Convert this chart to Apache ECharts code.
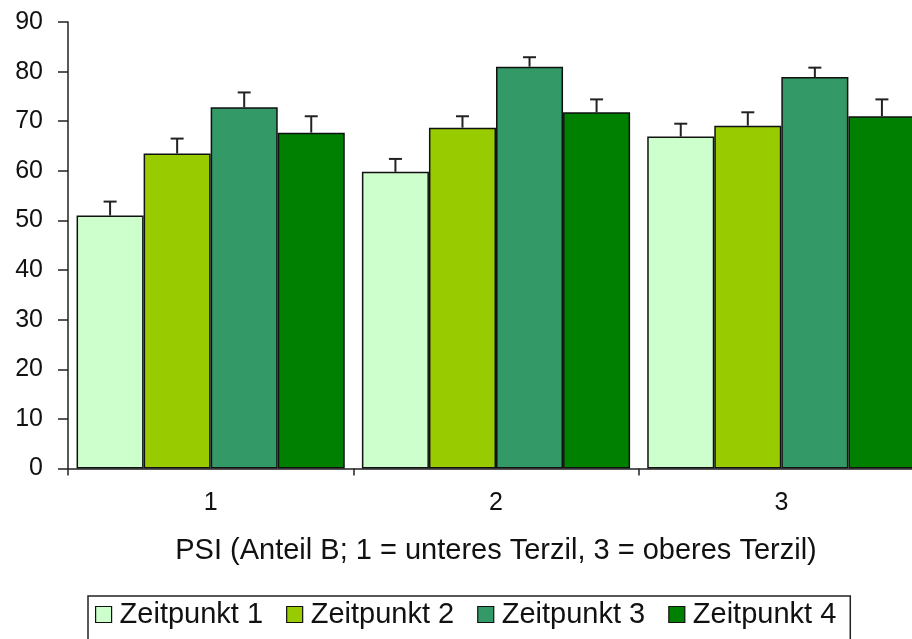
<!DOCTYPE html>
<html>
<head>
<meta charset="utf-8">
<script src="https://cdn.jsdelivr.net/npm/echarts@6/dist/echarts.min.js"></script>
<style>html,body{margin:0;padding:0;background:#fff;}#c{width:912px;height:639px;}</style>
</head>
<body>
<div id="c"></div>
<script>
const categories = ['1', '2', '3'];
const seriesNames = ['Zeitpunkt 1', 'Zeitpunkt 2', 'Zeitpunkt 3', 'Zeitpunkt 4'];
const zeitpunkt1 = [51.0, 59.8, 66.9];
const zeitpunkt2 = [63.5, 68.7, 69.1];
const zeitpunkt3 = [72.8, 81.0, 78.9];
const zeitpunkt4 = [67.7, 71.8, 71.0];
const err1 = [2.8, 2.6, 2.6];
const err2 = [3.0, 2.3, 2.7];
const err3 = [3.0, 1.9, 1.9];
const err4 = [3.3, 2.6, 3.4];
const yTicks = [0, 10, 20, 30, 40, 50, 60, 70, 80, 90];

const values = [zeitpunkt1, zeitpunkt2, zeitpunkt3, zeitpunkt4];
const errs = [err1, err2, err3, err4];
const colors = ['#CCFFCC', '#99CC00', '#339966', '#008000'];
const catGap = 0.06;
const font = 'Liberation Sans, Arial, sans-serif';

const series = [];
values.forEach((vals, i) => {
  series.push({
    name: seriesNames[i],
    type: 'bar',
    data: vals,
    barGap: '0%',
    barCategoryGap: (catGap * 100) + '%',
    itemStyle: { color: colors[i], borderColor: '#111', borderWidth: 1.5 },
    emphasis: { disabled: true },
    z: 2
  });
});
values.forEach((vals, i) => {
  series.push({
    type: 'custom',
    name: 'err' + i,
    data: vals.map((v, k) => [k, v, v + errs[i][k]]),
    z: 5,
    silent: true,
    renderItem: function (params, api) {
      const k = api.value(0);
      const c0 = api.coord([k, api.value(1)]);
      const c1 = api.coord([k, api.value(2)]);
      const cw = api.size([1, 0])[0];
      const bw = cw * (1 - catGap) / 4;
      const x = c0[0] - 2 * bw + (i + 0.5) * bw;
      const cap = 6.5;
      const st = { stroke: '#222', lineWidth: 2 };
      return {
        type: 'group',
        children: [
          { type: 'line', shape: { x1: x, y1: c0[1], x2: x, y2: c1[1] }, style: st },
          { type: 'line', shape: { x1: x - cap, y1: c1[1], x2: x + cap, y2: c1[1] }, style: st }
        ]
      };
    }
  });
});

const chart = echarts.init(document.getElementById('c'));
chart.setOption({
  animation: false,
  backgroundColor: '#fff',
  textStyle: { fontFamily: font },
  grid: { left: 68, width: 856, top: 22, height: 446.5, containLabel: false, outerBoundsMode: 'none' },
  xAxis: {
    type: 'category',
    data: categories,
    name: 'PSI (Anteil B; 1 = unteres Terzil, 3 = oberes Terzil)',
    nameLocation: 'middle',
    nameGap: 68,
    nameTextStyle: { fontSize: 29, color: '#111', fontFamily: font },
    axisLine: { lineStyle: { color: '#222', width: 1.5 } },
    axisTick: { show: true, length: 7, lineStyle: { color: '#222', width: 1.5 } },
    axisLabel: { fontSize: 25, color: '#111', margin: 22, fontFamily: font }
  },
  yAxis: {
    type: 'value',
    min: yTicks[0],
    max: yTicks[yTicks.length - 1],
    interval: 10,
    splitLine: { show: false },
    axisLine: { show: true, lineStyle: { color: '#222', width: 1.5 } },
    axisTick: { show: true, length: 10, lineStyle: { color: '#222', width: 1.5 } },
    axisLabel: { fontSize: 25, color: '#111', margin: 25, fontFamily: font }
  },
  legend: {
    data: seriesNames.map((n, i) => ({ name: n, icon: 'rect', itemStyle: { color: colors[i], borderColor: '#111', borderWidth: 1.2 } })),
    left: 88,
    top: 596,
    orient: 'horizontal',
    itemWidth: 16,
    itemHeight: 16,
    itemGap: 23,
    padding: [4, 14, 30, 7],
    borderColor: '#222',
    borderWidth: 1.5,
    textStyle: { fontSize: 29, color: '#111', fontFamily: font, padding: [0, 0, 0, 3] },
    selectedMode: false
  },
  series: series
});
</script>
</body>
</html>
